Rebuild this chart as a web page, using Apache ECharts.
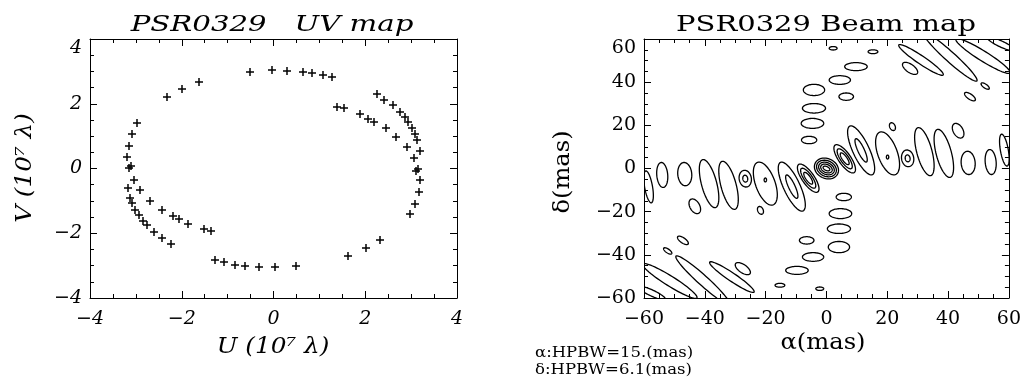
<!DOCTYPE html>
<html><head><meta charset="utf-8">
<script src="https://cdn.jsdelivr.net/npm/echarts@6/dist/echarts.min.js"></script>
<style>html,body{margin:0;padding:0;background:#fff}#c{width:1024px;height:382px}</style>
</head><body><div id="c"></div>
<script>
// ---------- UV coverage (units of 10^7 lambda) ----------
const uvU = [-0.51,-0.04,0.30,0.65,0.85,1.07,1.27,
  -1.62,-2.00,-2.33,
  -2.97,-3.09,-3.16,-3.20,-3.16,-3.10,-3.05,-3.18,-3.13,-3.09,-3.02,-2.94,-2.84,-2.76,-2.60,-2.42,-2.24,
  -2.91,-2.69,-2.44,-2.20,-2.07,-1.87,-1.52,-1.37,
  -1.27,-1.08,-0.84,-0.63,-0.31,0.04,0.49,
  1.62,2.01,2.33,
  2.97,3.08,3.17,3.20,3.11,3.16,3.06,3.20,3.13,3.09,3.02,2.93,2.86,2.76,2.60,2.41,2.26,
  2.90,2.68,2.45,2.20,2.07,1.88,1.53,1.38];
const uvV = [2.99,3.04,3.02,2.98,2.96,2.90,2.84,
  2.67,2.46,2.20,
  1.39,1.08,0.71,0.35,0.02,0.07,-0.34,-0.59,-0.90,-1.06,-1.27,-1.44,-1.62,-1.76,-1.96,-2.14,-2.32,
  -0.67,-1.00,-1.27,-1.47,-1.57,-1.70,-1.87,-1.93,
  -2.84,-2.90,-2.97,-3.00,-3.04,-3.04,-3.02,
  -2.69,-2.47,-2.22,
  -1.41,-1.09,-0.74,-0.37,-0.07,-0.02,0.33,0.55,0.88,1.06,1.26,1.44,1.60,1.74,1.95,2.13,2.29,
  0.67,0.96,1.26,1.45,1.54,1.68,1.86,1.91];

// ---------- Beam map contours ----------
// each contour: [alpha (mas), delta (mas), semi-axis alpha (mas), semi-axis delta (mas), tilt (deg)]
const centralRings = [
  [0,0,4.1,4.6,-25],[0,0,3.4,3.6,-25],[0,0,2.7,2.7,-25],[0,0,2.0,1.85,-25],[0,0,1.2,0.9,-25]
];
const ridgeLobes = [
  [6.0,4.5,5.5,2.8,-55],[6.0,4.5,3.9,1.9,-55],[6.0,4.5,2.3,1.1,-55],
  [-6.0,-4.5,5.5,2.8,-55],[-6.0,-4.5,3.9,1.9,-55],[-6.0,-4.5,2.3,1.1,-55],
  [11.4,8.4,8.8,3.8,-65],[11.4,8.4,4.2,1.5,-65],
  [-11.4,-8.4,8.8,3.8,-65],[-11.4,-8.4,4.2,1.5,-65],
  [20.1,7.0,3.2,10.5,20],[20.1,5.3,0.4,0.9,0],
  [-20.1,-7.0,3.2,10.5,20],[-20.1,-5.3,0.4,0.9,0],
  [26.7,4.7,2.0,3.9,10],[26.7,4.7,0.8,1.6,10],
  [-26.7,-4.7,2.0,3.9,10],[-26.7,-4.7,0.8,1.6,10],
  [32.2,7.8,2.5,11.5,15],[-32.2,-7.8,2.5,11.5,15],
  [38.6,7.0,2.5,11.5,15],[-38.6,-7.0,2.5,11.5,15],
  [46.6,2.6,2.3,5.4,5],[-46.6,-2.6,2.3,5.4,5],
  [54.0,3.0,1.8,5.8,5],[-54.0,-3.0,1.8,5.8,5],
  [58.5,8.5,1.3,7.5,10],[-58.5,-8.5,1.3,7.5,10]
];
const columnLobes = [
  [2.2,55.7,1.3,0.8,0],[15.3,54.1,1.6,0.9,0],[9.7,47.2,3.7,1.85,0],[4.4,41.0,3.5,2.0,0],
  [-4.1,36.4,3.5,2.6,0],[6.5,33.3,2.4,1.7,0],[-4.1,27.9,3.8,2.2,0],[-4.6,20.9,3.7,2.3,0],[-5.7,13.2,2.5,1.7,0],
  [-2.2,-55.7,1.3,0.8,0],[-15.3,-54.1,1.6,0.9,0],[-9.7,-47.2,3.7,1.85,0],[-4.4,-41.0,3.5,2.0,0],
  [4.1,-36.4,3.5,2.6,0],[-6.5,-33.3,2.4,1.7,0],[4.1,-27.9,3.8,2.2,0],[4.6,-20.9,3.7,2.3,0],[5.7,-13.2,2.5,1.7,0]
];
const sideLobes = [
  [21.7,19.4,0.9,1.9,25],[-21.7,-19.4,0.9,1.9,25],
  [43.3,17.5,1.6,3.7,30],[-43.3,-17.5,1.6,3.7,30],
  [27.5,46.4,2.9,1.9,-35],[-27.5,-46.4,2.9,1.9,-35],
  [47.2,33.3,2.1,1.2,-35],[-47.2,-33.3,2.1,1.2,-35],
  [52.2,38.2,1.6,0.9,-35],[-52.2,-38.2,1.6,0.9,-35]
];
const cornerStreaks = [
  [31.1,50.3,8.8,1.9,-34],[40.7,51.7,11.8,2.3,-42],[51.5,52.1,10.5,2.3,-32],[57.4,57.7,4.9,1.4,-25],
  [-31.1,-50.3,8.8,1.9,-34],[-40.7,-51.7,11.8,2.3,-42],[-51.5,-52.1,10.5,2.3,-32],[-57.4,-57.7,4.9,1.4,-25]
];

const uvTicks = [-4,-2,0,2,4];
const beamTicks = [-60,-40,-20,0,20,40,60];

// ---------- helpers ----------
const SERIF = 'DejaVu Serif';
const minus = v => String(v).replace('-', '\u2212');

function mkAxis(grid, pos, ticks, labels, italic, isY) {
  const ax = {
    type: 'value', gridIndex: grid, position: pos,
    min: ticks[0], max: ticks[ticks.length - 1], interval: ticks[1] - ticks[0],
    axisLine: {show: true, onZero: false, lineStyle: {color: '#000', width: 1}},
    axisTick: {show: true, inside: true, length: 7, lineStyle: {color: '#000', width: 1}},
    minorTick: {show: true, splitNumber: 4, length: 4, lineStyle: {color: '#000', width: 1}},
    splitLine: {show: false}, minorSplitLine: {show: false},
    axisLabel: {show: labels, color: '#000', fontFamily: SERIF, fontSize: 19,
      fontStyle: italic ? 'italic' : 'normal', margin: isY ? 8 : 12, formatter: minus}
  };
  if (isY) ax.axisLabel.verticalAlignMaxLabel = 'top';
  return ax;
}

function plusItem(params, api) {
  const c = api.coord([api.value(0), api.value(1)]);
  const x = Math.round(c[0]), y = Math.round(c[1]), h = 4;
  const st = {stroke: '#000', lineWidth: 1.5};
  return {type: 'group', children: [
    {type: 'line', shape: {x1: x - h, y1: y, x2: x + h, y2: y}, style: st},
    {type: 'line', shape: {x1: x, y1: y - h, x2: x, y2: y + h}, style: st}
  ]};
}

function ellipseItem(params, api) {
  const c = api.coord([api.value(0), api.value(1)]);
  const s = api.size([api.value(2), api.value(3)]);
  const t = api.value(4) * Math.PI / 180;
  const pts = [];
  const n = 64;
  for (let k = 0; k < n; k++) {
    const th = 2 * Math.PI * k / n;
    const x = s[0] * Math.cos(th), y = s[1] * Math.sin(th);
    pts.push([c[0] + x * Math.cos(t) - y * Math.sin(t), c[1] - (x * Math.sin(t) + y * Math.cos(t))]);
  }
  return {type: 'polygon', shape: {points: pts},
    style: {fill: 'none', stroke: '#000', lineWidth: 1.3}};
}

const allContours = [].concat(centralRings, ridgeLobes, columnLobes, sideLobes, cornerStreaks);

function txt(x, y, text, size, opts) {
  opts = opts || {};
  return {type: 'text', x: x, y: y, rotation: opts.rot || 0, scaleX: opts.sx || 1,
    style: {text: text, fill: '#000', fontFamily: SERIF, fontSize: size,
      fontStyle: opts.italic ? 'italic' : 'normal',
      align: opts.align || 'center', verticalAlign: 'middle'}};
}

const chart = echarts.init(document.getElementById('c'), null, {renderer: 'canvas'});
chart.setOption({
  animation: false,
  backgroundColor: '#fff',
  grid: [
    {left: 90, top: 39, width: 367, height: 259},
    {left: 644, top: 39, width: 367, height: 259}
  ],
  xAxis: [
    mkAxis(0, 'bottom', uvTicks, true, true, false),
    mkAxis(0, 'top', uvTicks, false, true, false),
    mkAxis(1, 'bottom', beamTicks, true, false, false),
    mkAxis(1, 'top', beamTicks, false, false, false)
  ],
  yAxis: [
    mkAxis(0, 'left', uvTicks, true, true, true),
    mkAxis(0, 'right', uvTicks, false, true, true),
    mkAxis(1, 'left', beamTicks, true, false, true),
    mkAxis(1, 'right', beamTicks, false, false, true)
  ],
  series: [
    {type: 'custom', xAxisIndex: 0, yAxisIndex: 0,
      data: uvU.map((u, i) => [u, uvV[i]]), encode: {x: 0, y: 1},
      renderItem: plusItem},
    {type: 'custom', xAxisIndex: 2, yAxisIndex: 2, clip: true,
      data: allContours, encode: {x: 0, y: 1},
      renderItem: ellipseItem}
  ],
  graphic: [
    txt(272, 25, 'PSR0329   UV map', 23, {italic: true, sx: 1.27}),
    txt(826, 25, 'PSR0329 Beam map', 23, {sx: 1.26}),
    txt(273, 347, 'U (10\u2077 \u03bb)', 22, {italic: true, sx: 1.12}),
    txt(25, 168, 'V (10\u2077 \u03bb)', 22, {italic: true, sx: 1.12, rot: Math.PI / 2}),
    txt(823, 343, '\u03b1(mas)', 22, {sx: 1.1}),
    txt(563, 172, '\u03b4(mas)', 22, {sx: 1.1, rot: Math.PI / 2}),
    txt(535, 353, '\u03b1:HPBW=15.(mas)', 15, {sx: 1.1, align: 'left'}),
    txt(535, 370, '\u03b4:HPBW=6.1(mas)', 15, {sx: 1.1, align: 'left'})
  ]
});
</script></body></html>
